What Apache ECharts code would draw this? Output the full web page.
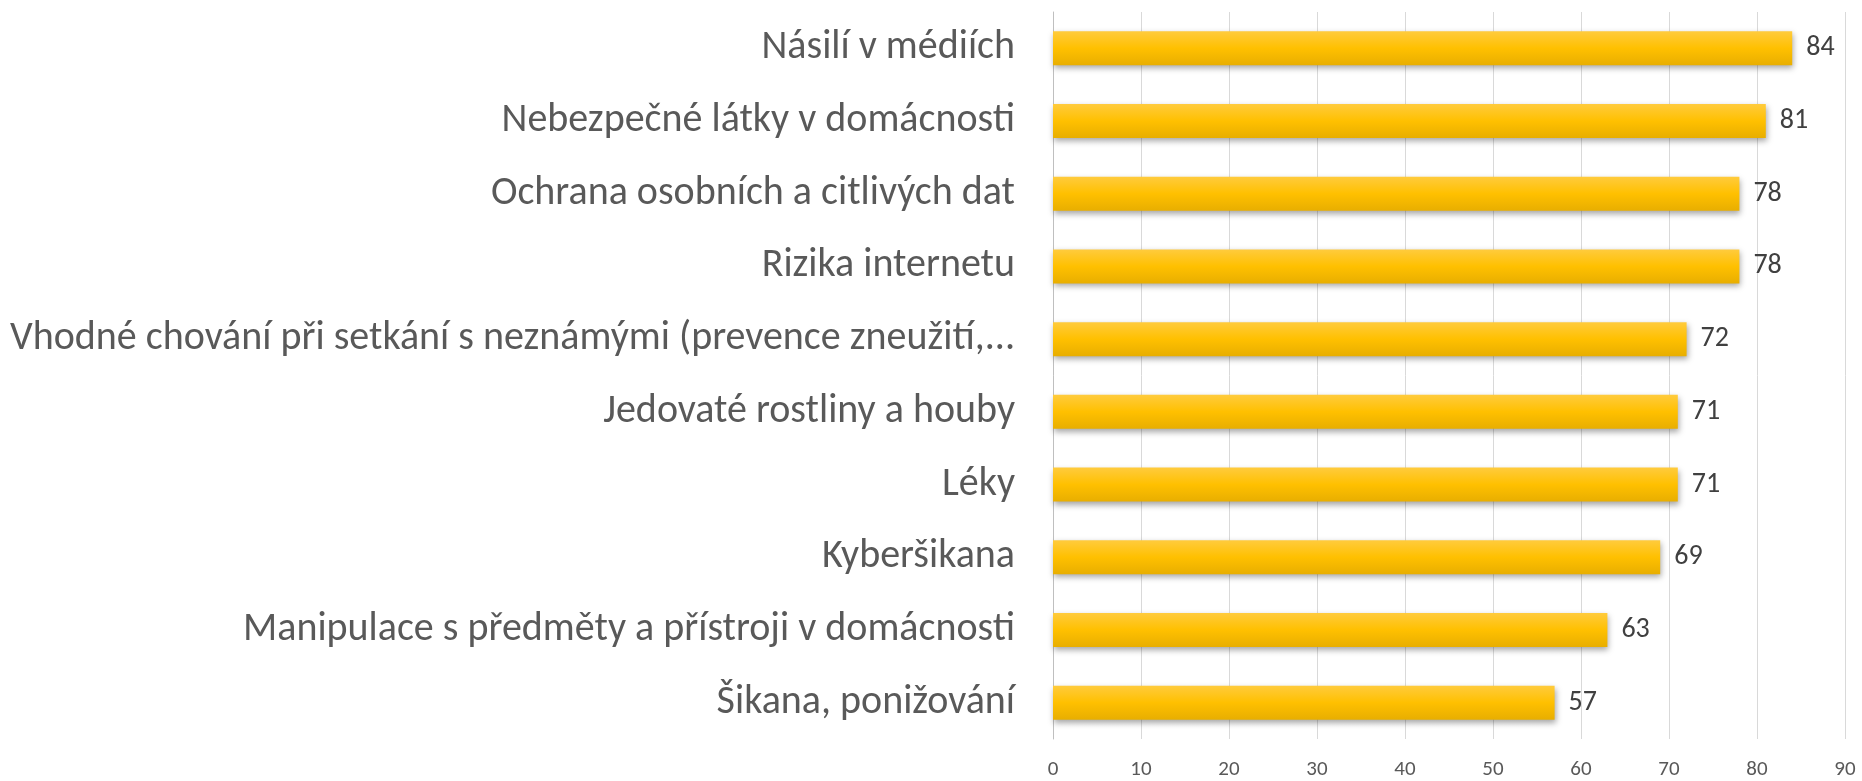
<!DOCTYPE html>
<html>
<head>
<meta charset="utf-8">
<script src="https://cdn.jsdelivr.net/npm/echarts@6/dist/echarts.min.js"></script>
<style>
html,body{margin:0;padding:0;background:#fff;}
#chart{width:1862px;height:781px;}
</style>
</head>
<body>
<div id="chart"></div>
<script>
const categories = [
  "Násilí v médiích",
  "Nebezpečné látky v domácnosti",
  "Ochrana osobních a citlivých dat",
  "Rizika internetu",
  "Vhodné chování při setkání s neznámými (prevence zneužití,...",
  "Jedovaté rostliny a houby",
  "Léky",
  "Kyberšikana",
  "Manipulace s předměty a přístroji v domácnosti",
  "Šikana, ponižování"
];
const values = [84, 81, 78, 78, 72, 71, 71, 69, 63, 57];
const xTicks = { min: 0, max: 90, interval: 10 };

const FONT = "Carlito, 'Liberation Sans', Arial, sans-serif";
const chart = echarts.init(document.getElementById('chart'), null, { renderer: 'canvas' });
chart.setOption({
  backgroundColor: '#ffffff',
  animation: false,
  grid: { left: 1053, right: 17, top: 12, bottom: 42, containLabel: false },
  xAxis: {
    type: 'value',
    min: xTicks.min, max: xTicks.max, interval: xTicks.interval,
    axisLine: { show: false },
    axisTick: { show: false },
    splitLine: { show: true, lineStyle: { color: '#D9D9D9', width: 1 } },
    axisLabel: { fontFamily: FONT, fontSize: 21, color: '#595959', margin: 20 }
  },
  yAxis: {
    type: 'category',
    inverse: true,
    data: categories,
    axisLine: { show: true, lineStyle: { color: '#BFBFBF', width: 1 } },
    axisTick: { show: false },
    axisLabel: { fontFamily: FONT, fontSize: 40, color: '#595959', margin: 38 }
  },
  series: [{
    type: 'bar',
    data: values,
    barWidth: 34,
    itemStyle: {
      color: new echarts.graphic.LinearGradient(0, 0, 0, 1, [
        { offset: 0, color: '#FFCB3D' },
        { offset: 0.5, color: '#FFC000' },
        { offset: 1, color: '#E8AE00' }
      ]),
      shadowColor: 'rgba(0,0,0,0.35)',
      shadowBlur: 6,
      shadowOffsetX: 1,
      shadowOffsetY: 3
    },
    label: {
      show: true,
      position: 'right',
      distance: 14,
      fontFamily: FONT,
      fontSize: 28,
      color: '#404040'
    }
  }]
});
</script>
</body>
</html>
